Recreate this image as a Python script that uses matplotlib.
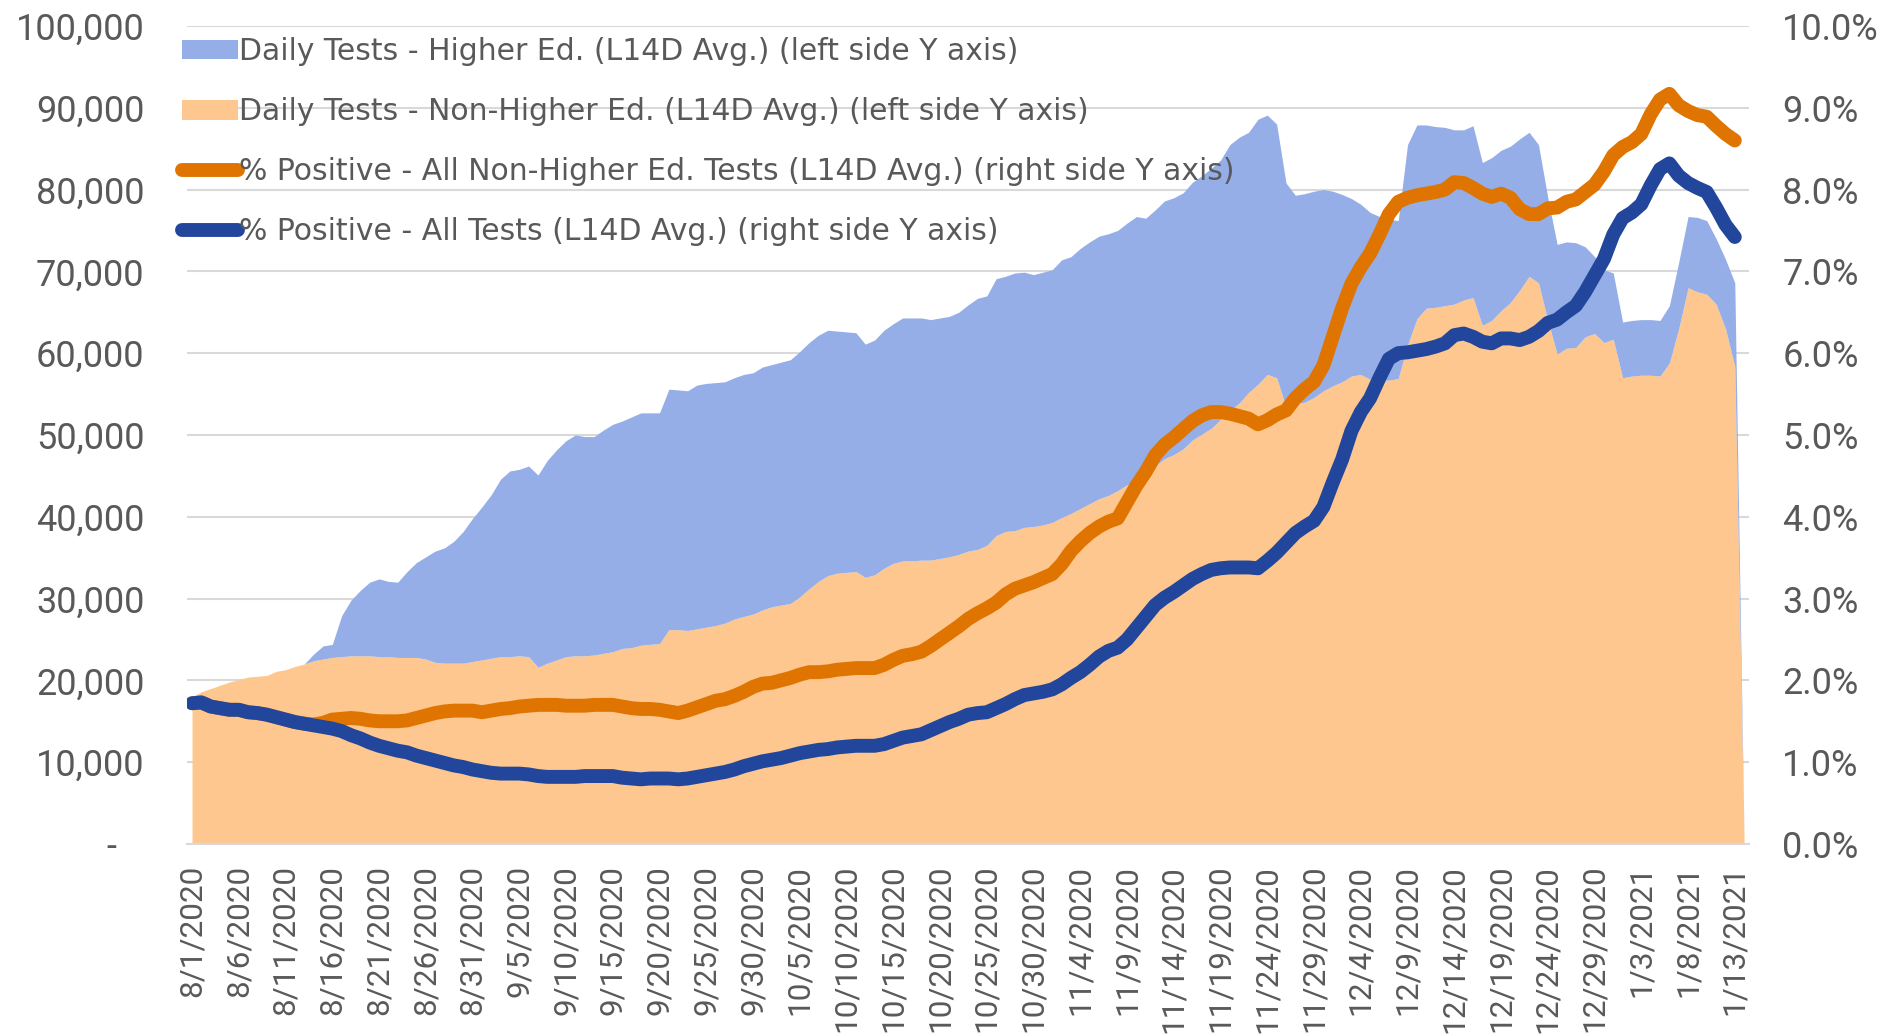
import matplotlib
matplotlib.use("Agg")
import matplotlib.pyplot as plt
from matplotlib.patches import Patch
from matplotlib.lines import Line2D
from matplotlib.ticker import FuncFormatter, MultipleLocator
import numpy as np
import pandas as pd

# ---------------- data ----------------
start_date = "2020-08-01"
n_days = 167
dates = pd.date_range(start_date, periods=n_days)
date_labels = [f"{d.month}/{d.day}/{d.year}" for d in dates]

# Daily tests, L14D average, in thousands
non_higher_k = [
    18.0, 18.6, 19.0, 19.4, 19.8, 20.1, 20.4, 20.5, 20.6, 21.1,
    21.3, 21.7, 22.0, 22.4, 22.6, 22.8, 22.9, 23.0, 23.0, 23.0,
    22.9, 22.9, 22.8, 22.8, 22.8, 22.6, 22.2, 22.1, 22.1, 22.1,
    22.3, 22.5, 22.7, 22.9, 22.9, 23.0, 22.9, 21.6, 22.1, 22.5,
    22.9, 23.0, 23.0, 23.1, 23.3, 23.5, 23.9, 24.0, 24.3, 24.4,
    24.5, 26.2, 26.2, 26.1, 26.3, 26.5, 26.7, 27.0, 27.5, 27.8,
    28.1, 28.6, 29.0, 29.2, 29.4, 30.2, 31.2, 32.1, 32.8, 33.1,
    33.2, 33.3, 32.6, 32.9, 33.7, 34.3, 34.6, 34.6, 34.7, 34.7,
    34.9, 35.1, 35.4, 35.8, 36.0, 36.5, 37.7, 38.2, 38.3, 38.7,
    38.8, 39.0, 39.3, 39.9, 40.4, 41.0, 41.6, 42.2, 42.6, 43.2,
    43.9, 44.4, 45.1, 46.2, 47.1, 47.6, 48.3, 49.4, 50.1, 50.8,
    51.9, 53.0, 53.9, 55.2, 56.2, 57.4, 57.0, 53.4, 53.8, 54.0,
    54.6, 55.4, 56.0, 56.5, 57.2, 57.4, 56.8, 56.7, 56.7, 56.9,
    61.0, 64.2, 65.5, 65.6, 65.8, 66.0, 66.5, 66.8, 63.4, 64.0,
    65.2, 66.2, 67.7, 69.4, 68.6, 64.0, 59.9, 60.6, 60.7, 62.0,
    62.4, 61.3, 61.7, 57.0, 57.2, 57.3, 57.3, 57.2, 58.8, 63.0,
    68.0, 67.5, 67.2, 66.0, 63.0, 58.4, 0.0,
]
higher_ed_k = [
    0, 0, 0, 0, 0, 0, 0, 0, 0, 0,
    0, 0, 0, 0.8, 1.6, 1.6, 5.0, 6.8, 8.0, 9.0,
    9.5, 9.2, 9.2, 10.5, 11.6, 12.5, 13.6, 14.1, 14.9, 16.1,
    17.5, 18.7, 20.0, 21.7, 22.7, 22.8, 23.3, 23.5, 24.8, 25.7,
    26.4, 27.0, 26.8, 26.7, 27.3, 27.8, 27.8, 28.2, 28.4, 28.3,
    28.2, 29.4, 29.3, 29.3, 29.8, 29.8, 29.7, 29.5, 29.5, 29.6,
    29.5, 29.7, 29.6, 29.7, 29.8, 30.0, 30.1, 30.1, 30.0, 29.6,
    29.4, 29.2, 28.5, 28.7, 29.1, 29.3, 29.7, 29.7, 29.6, 29.4,
    29.4, 29.4, 29.6, 30.1, 30.7, 30.5, 31.4, 31.2, 31.5, 31.2,
    30.8, 30.9, 30.9, 31.5, 31.4, 31.8, 32.0, 32.1, 32.0, 31.8,
    32.0, 32.3, 31.4, 31.3, 31.5, 31.4, 31.3, 31.5, 31.6, 31.8,
    31.7, 32.5, 32.5, 31.8, 32.4, 31.7, 31.0, 27.4, 25.5, 25.5,
    25.2, 24.6, 23.8, 22.9, 21.7, 20.8, 20.4, 20.0, 19.7, 19.3,
    24.5, 23.7, 22.4, 22.1, 21.8, 21.3, 20.8, 21.0, 19.9, 19.9,
    19.6, 19.1, 18.5, 17.6, 16.9, 15.0, 13.4, 13.0, 12.8, 11.0,
    9.4, 8.9, 8.1, 6.8, 6.8, 6.8, 6.8, 6.8, 7.0, 8.1,
    8.7, 9.1, 9.0, 8.0, 8.5, 10.2, 0.0,
]
# % positive, L14D average (percent); last date has no value
pct_non_higher = [
    1.72, 1.73, 1.68, 1.66, 1.64, 1.64, 1.61, 1.60, 1.58, 1.55,
    1.52, 1.49, 1.47, 1.46, 1.48, 1.52, 1.53, 1.54, 1.53, 1.51,
    1.50, 1.50, 1.50, 1.51, 1.54, 1.57, 1.60, 1.62, 1.63, 1.63,
    1.63, 1.61, 1.63, 1.65, 1.66, 1.68, 1.69, 1.70, 1.70, 1.70,
    1.69, 1.69, 1.69, 1.70, 1.70, 1.70, 1.68, 1.66, 1.65, 1.65,
    1.64, 1.62, 1.60, 1.63, 1.67, 1.71, 1.75, 1.77, 1.81, 1.86,
    1.92, 1.96, 1.97, 2.00, 2.03, 2.07, 2.10, 2.10, 2.11, 2.13,
    2.14, 2.15, 2.15, 2.15, 2.19, 2.25, 2.30, 2.32, 2.35, 2.42,
    2.50, 2.58, 2.66, 2.75, 2.82, 2.88, 2.95, 3.05, 3.12, 3.16,
    3.20, 3.25, 3.30, 3.42, 3.58, 3.70, 3.80, 3.88, 3.94, 3.98,
    4.18, 4.38, 4.55, 4.75, 4.88, 4.97, 5.07, 5.17, 5.24, 5.28,
    5.28, 5.26, 5.23, 5.20, 5.13, 5.18, 5.25, 5.30, 5.45, 5.56,
    5.65, 5.85, 6.20, 6.55, 6.85, 7.05, 7.22, 7.45, 7.70, 7.85,
    7.90, 7.93, 7.95, 7.97, 8.00, 8.09, 8.08, 8.02, 7.95, 7.91,
    7.95, 7.90, 7.76, 7.70, 7.70, 7.77, 7.78, 7.85, 7.88, 7.97,
    8.06, 8.22, 8.42, 8.52, 8.58, 8.68, 8.92, 9.10, 9.17, 9.03,
    8.96, 8.91, 8.89, 8.78, 8.68, 8.60,
]
pct_all = [
    1.72, 1.73, 1.68, 1.66, 1.64, 1.64, 1.61, 1.60, 1.58, 1.55,
    1.52, 1.49, 1.47, 1.45, 1.43, 1.41, 1.38, 1.33, 1.29, 1.24,
    1.20, 1.17, 1.14, 1.12, 1.08, 1.05, 1.02, 0.99, 0.96, 0.94,
    0.91, 0.89, 0.87, 0.86, 0.86, 0.86, 0.85, 0.83, 0.82, 0.82,
    0.82, 0.82, 0.83, 0.83, 0.83, 0.83, 0.81, 0.80, 0.79, 0.80,
    0.80, 0.80, 0.79, 0.80, 0.82, 0.84, 0.86, 0.88, 0.91, 0.95,
    0.98, 1.01, 1.03, 1.05, 1.08, 1.11, 1.13, 1.15, 1.16, 1.18,
    1.19, 1.20, 1.20, 1.20, 1.22, 1.26, 1.30, 1.32, 1.34, 1.39,
    1.44, 1.49, 1.53, 1.58, 1.60, 1.61, 1.66, 1.71, 1.77, 1.82,
    1.84, 1.86, 1.89, 1.95, 2.03, 2.10, 2.19, 2.29, 2.36, 2.40,
    2.50, 2.64, 2.78, 2.92, 3.01, 3.08, 3.16, 3.24, 3.30, 3.35,
    3.37, 3.38, 3.38, 3.38, 3.37, 3.46, 3.56, 3.68, 3.80, 3.88,
    3.95, 4.12, 4.42, 4.70, 5.05, 5.28, 5.45, 5.70, 5.93, 6.00,
    6.01, 6.03, 6.05, 6.08, 6.12, 6.22, 6.24, 6.20, 6.14, 6.12,
    6.18, 6.18, 6.16, 6.20, 6.27, 6.37, 6.41, 6.50, 6.58, 6.75,
    6.95, 7.15, 7.45, 7.65, 7.72, 7.82, 8.05, 8.25, 8.32, 8.17,
    8.08, 8.02, 7.97, 7.78, 7.57, 7.42,
]

legend_labels = [
    "Daily Tests - Higher Ed. (L14D Avg.) (left side Y axis)",
    "Daily Tests - Non-Higher Ed. (L14D Avg.) (left side Y axis)",
    "% Positive - All Non-Higher Ed. Tests (L14D Avg.) (right side Y axis)",
    "% Positive - All Tests (L14D Avg.) (right side Y axis)",
]

# ---------------- style ----------------
BLUE_AREA = "#95AEE7"
ORANGE_AREA = "#FDC78F"
ORANGE_LINE = "#DF7500"
BLUE_LINE = "#21469B"
GRID = "#D9D9D9"
TEXT = "#595959"
LINE_W = 10

plt.rcParams["font.family"] = ["Roboto", "DejaVu Sans"]

fig = plt.figure(figsize=(19.04, 10.34), dpi=100)
ax = fig.add_axes([0.0984, 0.1838, 0.8201, 0.7911])

x = np.arange(n_days)
non = np.array(non_higher_k) * 1000
hi = np.array(higher_ed_k) * 1000

ax.fill_between(x, 0, non, color=ORANGE_AREA, lw=0, zorder=2)
ax.fill_between(x, non, non + hi, color=BLUE_AREA, lw=0, zorder=2)

ax.set_xlim(-0.5, n_days - 0.5)
ax.set_ylim(0, 100000)
ax.yaxis.set_major_locator(MultipleLocator(10000))
ax.yaxis.set_major_formatter(
    FuncFormatter(lambda v, p: "-   " if v == 0 else f"{v:,.0f}"))
ax.grid(axis="y", color=GRID, lw=1.5, zorder=0)
ax.set_axisbelow(True)
for s in ["left", "right", "top"]:
    ax.spines[s].set_visible(False)
ax.spines["bottom"].set_color(GRID)
ax.spines["bottom"].set_linewidth(1.5)
ax.spines["bottom"].set_zorder(3)

ax.set_xticks(x[::5])
ax.set_xticklabels(date_labels[::5], rotation=90, fontsize=22.7, color=TEXT)
ax.tick_params(axis="x", length=0, pad=15)
ax.tick_params(axis="y", length=0, pad=31, labelsize=26, labelcolor=TEXT)

ax2 = ax.twinx()
ax2.set_ylim(0, 10)
ax2.yaxis.set_major_locator(MultipleLocator(1))
ax2.yaxis.set_major_formatter(FuncFormatter(lambda v, p: f"{v:.1f}%"))
for s in ax2.spines.values():
    s.set_visible(False)
ax2.tick_params(axis="y", length=0, pad=24, labelsize=26, labelcolor=TEXT)

xl = x[: len(pct_all)]
ax2.plot(xl, pct_non_higher, color=ORANGE_LINE, lw=LINE_W,
         solid_capstyle="round", solid_joinstyle="round", zorder=3)
ax2.plot(xl, pct_all, color=BLUE_LINE, lw=LINE_W,
         solid_capstyle="round", solid_joinstyle="round", zorder=4)

handles = [
    Patch(facecolor=BLUE_AREA, edgecolor="none"),
    Patch(facecolor=ORANGE_AREA, edgecolor="none"),
    Line2D([], [], color=ORANGE_LINE, lw=LINE_W, solid_capstyle="round"),
    Line2D([], [], color=BLUE_LINE, lw=LINE_W, solid_capstyle="round"),
]
leg = ax2.legend(handles, legend_labels, loc="upper left",
                 bbox_to_anchor=(182 / 1904, 1 - 37 / 1034),
                 bbox_transform=fig.transFigure, frameon=False,
                 prop={"family": "DejaVu Sans", "size": 21.5},
                 handlelength=1.87, handleheight=0.65,
                 handletextpad=0.05, labelspacing=1.04,
                 borderpad=0, borderaxespad=0)
for t in leg.get_texts():
    t.set_color(TEXT)

fig.savefig("out.png", dpi=100)
